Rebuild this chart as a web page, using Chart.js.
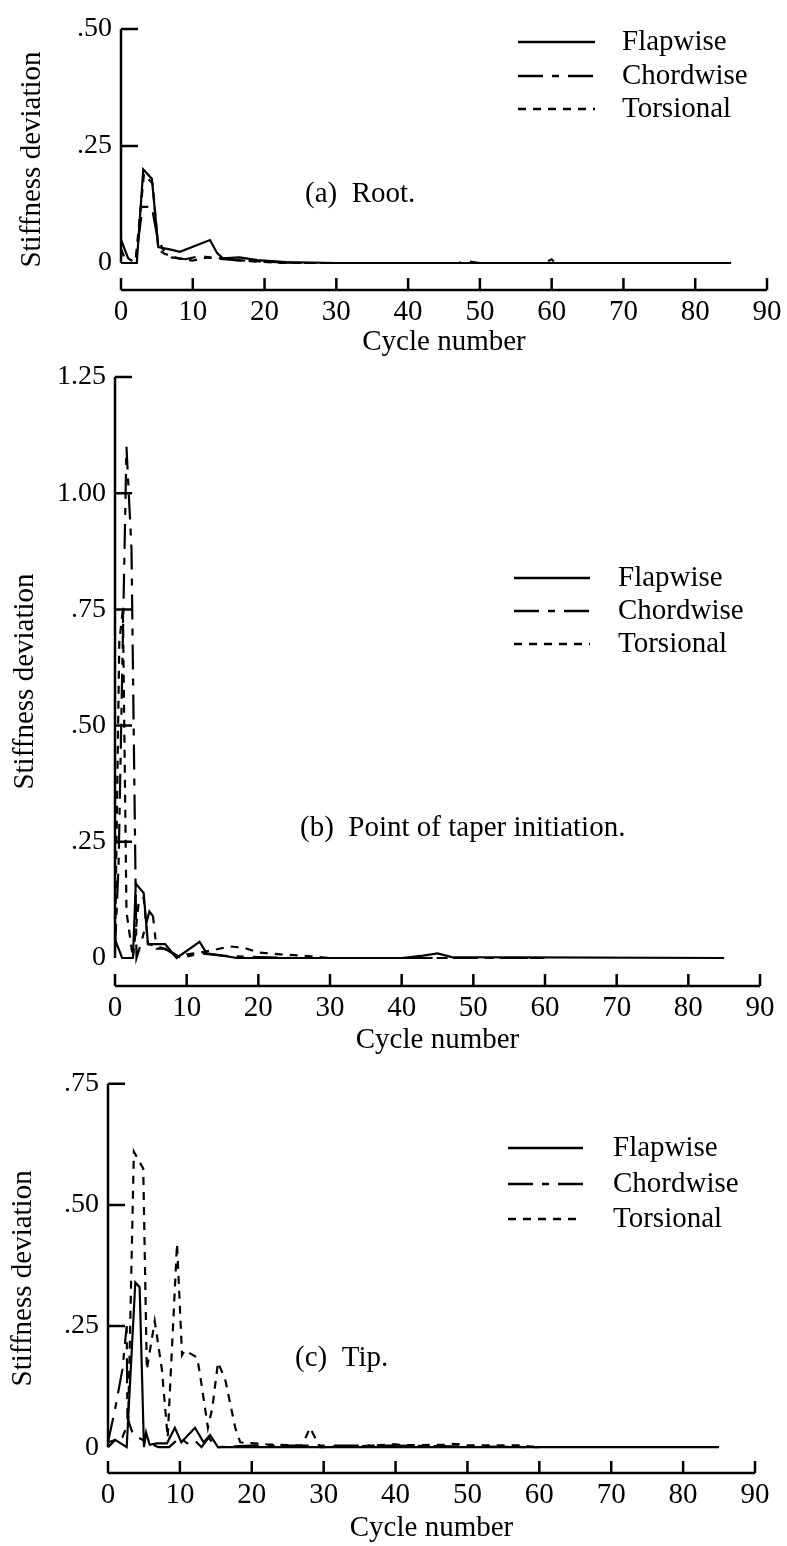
<!DOCTYPE html>
<html>
<head>
<meta charset="utf-8">
<title>Stiffness deviation vs cycle number</title>
<script src="https://cdn.jsdelivr.net/npm/chart.js@4.4.1/dist/chart.umd.min.js"></script>
<style>
  body { margin: 0; background: #fff; }
  .wrap { position: relative; width: 787px; height: 1546px; }
  canvas { position: absolute; left: 0; }
</style>
</head>
<body>
<div class="wrap">
  <canvas id="root" width="787" height="360" style="top:0px"></canvas>
  <canvas id="taper" width="787" height="708" style="top:350px"></canvas>
  <canvas id="tip" width="787" height="488" style="top:1058px"></canvas>
</div>
<script>
const seriesNames = ["Flapwise", "Chordwise", "Torsional"];
const xTickValues = [0, 10, 20, 30, 40, 50, 60, 70, 80, 90];

// (a) root
const rootYTicks = [0, 0.25, 0.5];
const rootYText = ["0", ".25", ".50"];
const rootFlapX = [0, 2.2, 3.1, 4.3, 5.2, 7.1, 8.2, 12.4, 13.4, 14.2, 16.5, 19, 23, 30, 85];
const rootFlapY = [0, 0, 0.2, 0.18, 0.034, 0.028, 0.024, 0.049, 0.021, 0.01, 0.012, 0.006, 0.002, 0, 0];
const rootChordX = [0, 1, 2, 3, 4.3, 5, 5.8, 7, 9, 11, 13, 16, 20, 25, 47, 48, 50, 60];
const rootChordY = [0.05, 0.01, 0, 0.12, 0.12, 0.06, 0.03, 0.012, 0.008, 0.015, 0.01, 0.006, 0.003, 0, 0, 0.004, 0, 0];
const rootTorsX = [0, 0.8, 2, 3.2, 4.4, 5.2, 6, 8, 10, 12, 14, 16, 18, 22, 59, 60, 60.3];
const rootTorsY = [0.03, 0, 0, 0.19, 0.17, 0.03, 0.02, 0.01, 0.005, 0.012, 0.01, 0.006, 0.004, 0, 0, 0.008, 0.003];

// (b) point of taper initiation
const taperYTicks = [0, 0.25, 0.5, 0.75, 1, 1.25];
const taperYText = ["0", ".25", ".50", ".75", "1.00", "1.25"];
const taperFlapX = [0, 1, 2.5, 2.9, 4, 4.6, 7, 8.6, 11.8, 12.8, 15, 17, 40, 43, 45, 47, 85];
const taperFlapY = [0.04, 0, 0, 0.16, 0.14, 0.03, 0.03, 0, 0.035, 0.01, 0.005, 0, 0, 0.005, 0.01, 0.002, 0];
const taperChordX = [0, 0.5, 1.6, 2.3, 3, 3.6, 4.8, 5.3, 5.8, 7, 9, 12, 15, 20, 25, 60];
const taperChordY = [0.02, 0.2, 1.1, 0.88, 0, 0.03, 0.1, 0.09, 0.02, 0.02, 0, 0.01, 0.005, 0.002, 0, 0];
const taperTorsX = [0, 0.6, 1.1, 1.6, 2.5, 3.3, 4, 4.6, 6, 8, 9, 10, 12, 14, 16, 18, 20, 23, 27, 30, 60];
const taperTorsY = [0.02, 0.68, 0.75, 0.1, 0, 0.12, 0.13, 0.03, 0.025, 0.012, 0.002, 0.008, 0.012, 0.018, 0.025, 0.022, 0.012, 0.008, 0.004, 0, 0];

// (c) tip
const tipYTicks = [0, 0.25, 0.5, 0.75];
const tipYText = ["0", ".25", ".50", ".75"];
const tipFlapX = [0, 1, 2.6, 3.8, 4.4, 5, 5.3, 5.8, 6.8, 8.2, 9.3, 10.2, 12.1, 13.3, 14.2, 15.3, 85];
const tipFlapY = [0, 0.015, 0, 0.34, 0.33, 0, 0.03, 0.005, 0.008, 0.008, 0.04, 0.01, 0.04, 0.01, 0.025, 0, 0];
const tipChordX = [0, 1, 2, 2.6, 2.7, 3.4, 4.2, 5.5, 7, 8.5, 10, 11, 12, 13, 14, 15, 20, 40, 60];
const tipChordY = [0.01, 0.08, 0.16, 0.25, 0.06, 0.03, 0.02, 0.01, 0, 0, 0.02, 0.008, 0.015, 0, 0.02, 0, 0.003, 0.003, 0];
const tipTorsX = [0, 2, 2.8, 3.6, 4.9, 5.4, 6.5, 7.5, 8.3, 9.6, 10.3, 10.7, 12.4, 12.8, 13.9, 14.5, 15.3, 16.3, 17.7, 18.4, 22, 27, 28.1, 29.5, 35, 40, 41, 47, 48, 50, 57, 60];
const tipTorsY = [0.01, 0.02, 0.05, 0.61, 0.575, 0.16, 0.26, 0.16, 0.02, 0.42, 0.19, 0.2, 0.185, 0.15, 0.04, 0.08, 0.175, 0.14, 0.04, 0.01, 0.006, 0.003, 0.04, 0, 0.002, 0.006, 0.004, 0.005, 0.007, 0.004, 0.004, 0];

Chart.defaults.font.family = '"Liberation Serif", "Times New Roman", serif';
Chart.defaults.color = "#000";
Chart.defaults.animation = false;

const lineDashes = [[], [25, 9, 7, 9], [8, 7]];

// axis lines with inward ticks, the legend and the panel caption
const figureParts = {
  id: "figureParts",
  afterDraw(chart, args, opts) {
    const ctx = chart.ctx;
    const xs = chart.scales.x;
    const ys = chart.scales.y;
    const area = chart.chartArea;
    ctx.save();
    ctx.strokeStyle = "#000";
    ctx.lineWidth = 2.5;
    ctx.beginPath();
    ctx.moveTo(area.left, ys.getPixelForValue(ys.max));
    ctx.lineTo(area.left, ys.getPixelForValue(0));
    ys.ticks.forEach(t => {
      if (t.value > 0) {
        const p = ys.getPixelForValue(t.value);
        ctx.moveTo(area.left, p);
        ctx.lineTo(area.left + 17, p);
      }
    });
    ctx.moveTo(xs.getPixelForValue(xs.min), area.bottom);
    ctx.lineTo(xs.getPixelForValue(xs.max), area.bottom);
    xs.ticks.forEach(t => {
      const p = xs.getPixelForValue(t.value);
      ctx.moveTo(p, area.bottom);
      ctx.lineTo(p, area.bottom - 12);
    });
    ctx.stroke();

    ctx.font = '29px "Liberation Serif"';
    ctx.fillStyle = "#000";
    ctx.textBaseline = "alphabetic";
    chart.data.datasets.forEach((ds, i) => {
      const y = opts.legend.rows[i];
      ctx.setLineDash(ds.borderDash || []);
      ctx.beginPath();
      ctx.moveTo(opts.legend.x, y);
      ctx.lineTo(opts.legend.x + opts.legend.len, y);
      ctx.stroke();
      ctx.setLineDash([]);
      ctx.fillText(ds.label, opts.legend.textX, y + 8);
    });
    ctx.fillText(opts.caption.text, opts.caption.x, opts.caption.y);
    ctx.restore();
  }
};

function buildSeries(xs, ys) {
  return xs.map((x, i) => ({ x: x, y: ys[i] }));
}

function makeChart(id, cfg) {
  return new Chart(document.getElementById(id), {
    type: "line",
    data: {
      datasets: seriesNames.map((name, i) => ({
        label: name,
        data: buildSeries(cfg.xs[i], cfg.ys[i]),
        borderColor: "#000",
        borderWidth: 2.2,
        borderDash: lineDashes[i],
        pointRadius: 0,
        tension: 0,
        fill: false
      }))
    },
    options: {
      responsive: false,
      events: [],
      layout: { padding: { top: cfg.top, right: cfg.right, bottom: 0, left: 0 } },
      scales: {
        x: {
          type: "linear",
          min: 0,
          max: 90,
          grid: { display: false, drawTicks: false },
          border: { display: false },
          ticks: { font: { size: 29 }, padding: 5, maxRotation: 0, autoSkip: false },
          afterBuildTicks: s => { s.ticks = xTickValues.map(v => ({ value: v })); },
          afterFit: s => { s.height = cfg.xHeight; },
          title: { display: true, text: "Cycle number", font: { size: 29 }, padding: 0 }
        },
        y: {
          type: "linear",
          min: cfg.yMin,
          max: cfg.yTicks[cfg.yTicks.length - 1],
          grid: { display: false, drawTicks: false },
          border: { display: false },
          ticks: { font: { size: 28 }, padding: 9, callback: (v, i) => cfg.yText[i] },
          afterBuildTicks: s => { s.ticks = cfg.yTicks.map(v => ({ value: v })); },
          afterFit: s => { s.width = cfg.yWidth; },
          title: { display: true, text: "Stiffness deviation", font: { size: 29 }, padding: { top: cfg.titlePad, bottom: 0 } }
        }
      },
      plugins: {
        legend: { display: false },
        tooltip: { enabled: false },
        figureParts: { legend: cfg.legend, caption: cfg.caption }
      }
    },
    plugins: [figureParts]
  });
}

const rootChart = makeChart("root", {
  xs: [rootFlapX, rootChordX, rootTorsX],
  ys: [rootFlapY, rootChordY, rootTorsY],
  yTicks: rootYTicks, yText: rootYText, yMin: -0.0577,
  top: 29, right: 20, yWidth: 121, xHeight: 70, titlePad: 14.6,
  legend: { x: 518, len: 77, textX: 622, rows: [42, 76, 109] },
  caption: { text: "(a)  Root.", x: 305, y: 202 }
});

const taperChart = makeChart("taper", {
  xs: [taperFlapX, taperChordX, taperTorsX],
  ys: [taperFlapY, taperChordY, taperTorsY],
  yTicks: taperYTicks, yText: taperYText, yMin: -0.0602,
  top: 27, right: 27, yWidth: 115, xHeight: 72, titlePad: 7.6,
  legend: { x: 514, len: 76, textX: 618, rows: [228, 261, 294] },
  caption: { text: "(b)  Point of taper initiation.", x: 300, y: 486 }
});

const tipChart = makeChart("tip", {
  xs: [tipFlapX, tipChordX, tipTorsX],
  ys: [tipFlapY, tipChordY, tipTorsY],
  yTicks: tipYTicks, yText: tipYText, yMin: -0.0533,
  top: 23, right: 32, yWidth: 108, xHeight: 73, titlePad: 5.6,
  legend: { x: 508, len: 75, textX: 613, rows: [90, 126, 161] },
  caption: { text: "(c)  Tip.", x: 295, y: 308 }
});
</script>
</body>
</html>
